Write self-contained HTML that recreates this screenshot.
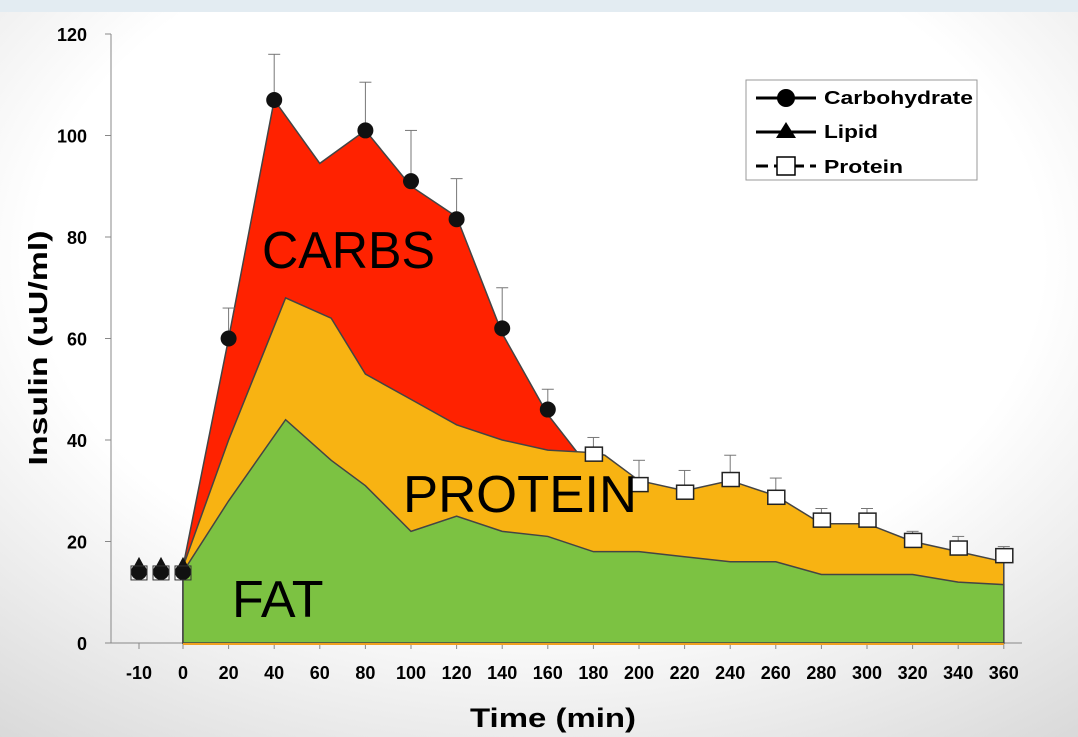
<!DOCTYPE html>
<html><head><meta charset="utf-8"><style>
body{margin:0;width:1078px;height:737px;overflow:hidden;font-family:"Liberation Sans",sans-serif;}
svg{display:block}
</style></head><body>
<svg width="1078" height="737">
<defs>
<radialGradient id="bg" cx="0.5" cy="0.35" r="0.85">
<stop offset="0.55" stop-color="#ffffff"/><stop offset="1" stop-color="#d6d6d6"/>
</radialGradient>
</defs>
<rect width="1078" height="737" fill="url(#bg)"/>
<rect width="1078" height="12" fill="#e3ecf2"/>
<g id="plot"></g>
<g>
<rect x="746" y="80" width="231" height="100" fill="#fff" stroke="#999"/>
<g><line x1="756" y1="98" x2="816" y2="98" stroke="#000" stroke-width="3"/><circle cx="786" cy="98" r="9" fill="#000"/><text x="824" y="104" font-size="18" font-weight="bold" textLength="149" lengthAdjust="spacingAndGlyphs">Carbohydrate</text></g>
<g><line x1="756" y1="132" x2="816" y2="132" stroke="#000" stroke-width="3"/><polygon points="786,122 796,138 776,138" fill="#000"/><text x="824" y="138" font-size="18" font-weight="bold" textLength="54" lengthAdjust="spacingAndGlyphs">Lipid</text></g>
<g><line x1="756" y1="166" x2="816" y2="166" stroke="#000" stroke-width="3" stroke-dasharray="12,6"/><rect x="777" y="157" width="18" height="18" fill="#fff" stroke="#000" stroke-width="1.5"/><text x="824" y="173" font-size="18" font-weight="bold" textLength="79" lengthAdjust="spacingAndGlyphs">Protein</text></g>
</g>
<text x="0" y="0" transform="translate(47,348) rotate(-90)" text-anchor="middle" font-size="26" font-weight="bold" textLength="235" lengthAdjust="spacingAndGlyphs">Insulin (uU/ml)</text>
<text x="553" y="727" text-anchor="middle" font-size="27" font-weight="bold" textLength="166" lengthAdjust="spacingAndGlyphs">Time (min)</text>
<text x="262" y="268" font-size="52" textLength="173" lengthAdjust="spacingAndGlyphs">CARBS</text>
<text x="403" y="512" font-size="52" textLength="234" lengthAdjust="spacingAndGlyphs">PROTEIN</text>
<text x="232" y="617" font-size="52">FAT</text>
</svg>
<script>
const xTicks=[-10,0,20,40,60,80,100,120,140,160,180,200,220,240,260,280,300,320,340,360];
const yTicks=[0,20,40,60,80,100,120];
const carbT=[0,20,40,60,80,100,120,140,160,173];
const carbV=[15,60,107,94.5,101,90,84,61,45,37.5];
const protT=[0,20,45,65,80,100,120,140,160,180,185,200,220,240,260,280,300,320,340,360];
const protV=[15,40,68,64,53,48,43,40,38,37.5,37,32,30,32,29,23.5,23.5,20,18,16];
const fatT=[0,20,45,65,80,100,120,140,160,180,200,220,240,260,280,300,320,340,360];
const fatV=[14,28,44,36,31,22,25,22,21,18,18,17,16,16,13.5,13.5,13.5,12,11.5];
const carbPtT=[-10,-5,0,20,40,80,100,120,140,160];
const carbPtV=[14,14,14,60,107,101,91,83.5,62,46];
const carbErr=[0,0,0,66,116,110.5,101,91.5,70,50];
const protPtT=[180,200,220,240,260,280,300,320,340,360];
const protPtV=[38,32,30.5,33,29.5,25,25,21,19.5,18];
const protErr=[40.5,36,34,37,32.5,26.5,26.5,22,21,19];
const basePtT=[-10,-5,0];
const basePtV=[15,15,15];
const X=t=>t<0?183+t*4.4:183+t*45.6/20, Y=v=>643-v*101.5/20;
const ns="http://www.w3.org/2000/svg", g=document.getElementById('plot');
function mk(tag,at,name){const e=document.createElementNS(ns,tag);for(const k in at)e.setAttribute(k,at[k]);


g.appendChild(e);return e;}
function area(T,V,fill,name){let p=`${X(T[0])},${Y(0)} `+T.map((t,i)=>`${X(t)},${Y(V[i])}`).join(' ')+` ${X(T[T.length-1])},${Y(0)}`;
mk('polygon',{points:p,fill:fill,stroke:'#444','stroke-width':1.5},name);}
mk('line',{x1:111,y1:Y(120),x2:111,y2:Y(0),stroke:'#888'},'y-axis');
mk('line',{x1:111,y1:Y(0),x2:1022,y2:Y(0),stroke:'#888'},'x-axis');
yTicks.forEach(v=>{mk('line',{x1:105,y1:Y(v),x2:111,y2:Y(v),stroke:'#888'},'y-tick');
const t=mk('text',{x:87,y:Y(v)+7,'text-anchor':'end','font-size':18,'font-weight':'bold'},'y-tick-label');t.textContent=v;});
xTicks.forEach(v=>{mk('line',{x1:X(v),y1:Y(0),x2:X(v),y2:Y(0)+6,stroke:'#888'},'x-tick');
const t=mk('text',{x:X(v),y:679,'text-anchor':'middle','font-size':18,'font-weight':'bold'},'x-tick-label');t.textContent=v;});
area(carbT,carbV,'#ff2200','carbs-area');
area(protT,protV,'#f8b312','protein-area');
area(fatT,fatV,'#7cc242','fat-area');
mk('line',{x1:X(0),y1:Y(0)+1,x2:X(360),y2:Y(0)+1,stroke:'#f0a020','stroke-width':2},'baseline');
carbPtT.forEach((t,i)=>{if(carbErr[i]>carbPtV[i]){mk('line',{x1:X(t),y1:Y(carbPtV[i]),x2:X(t),y2:Y(carbErr[i]),stroke:'#777'},'carb-error-bar');
mk('line',{x1:X(t)-6,y1:Y(carbErr[i]),x2:X(t)+6,y2:Y(carbErr[i]),stroke:'#777'},'carb-error-cap');}
mk('circle',{cx:X(t),cy:Y(carbPtV[i]),r:8,fill:'#111'},'carb-point');});
basePtT.forEach((t,i)=>{mk('polygon',{points:`${X(t)},${Y(basePtV[i])-10} ${X(t)+7},${Y(basePtV[i])+3} ${X(t)-7},${Y(basePtV[i])+3}`,fill:'#111'},'lipid-point');
mk('rect',{x:X(t)-8,y:Y(basePtV[i]-1)-6,width:16,height:14,fill:'none',stroke:'#333'},'protein-point');});
protPtT.forEach((t,i)=>{mk('line',{x1:X(t),y1:Y(protPtV[i]),x2:X(t),y2:Y(protErr[i]),stroke:'#777'},'protein-error-bar');
mk('line',{x1:X(t)-6,y1:Y(protErr[i]),x2:X(t)+6,y2:Y(protErr[i]),stroke:'#777'},'protein-error-cap');
mk('rect',{x:X(t)-8,y:Y(protPtV[i])-3,width:17,height:14,fill:'#fff',stroke:'#222','stroke-width':1.5},'protein-point');});
</script>
</body></html>
